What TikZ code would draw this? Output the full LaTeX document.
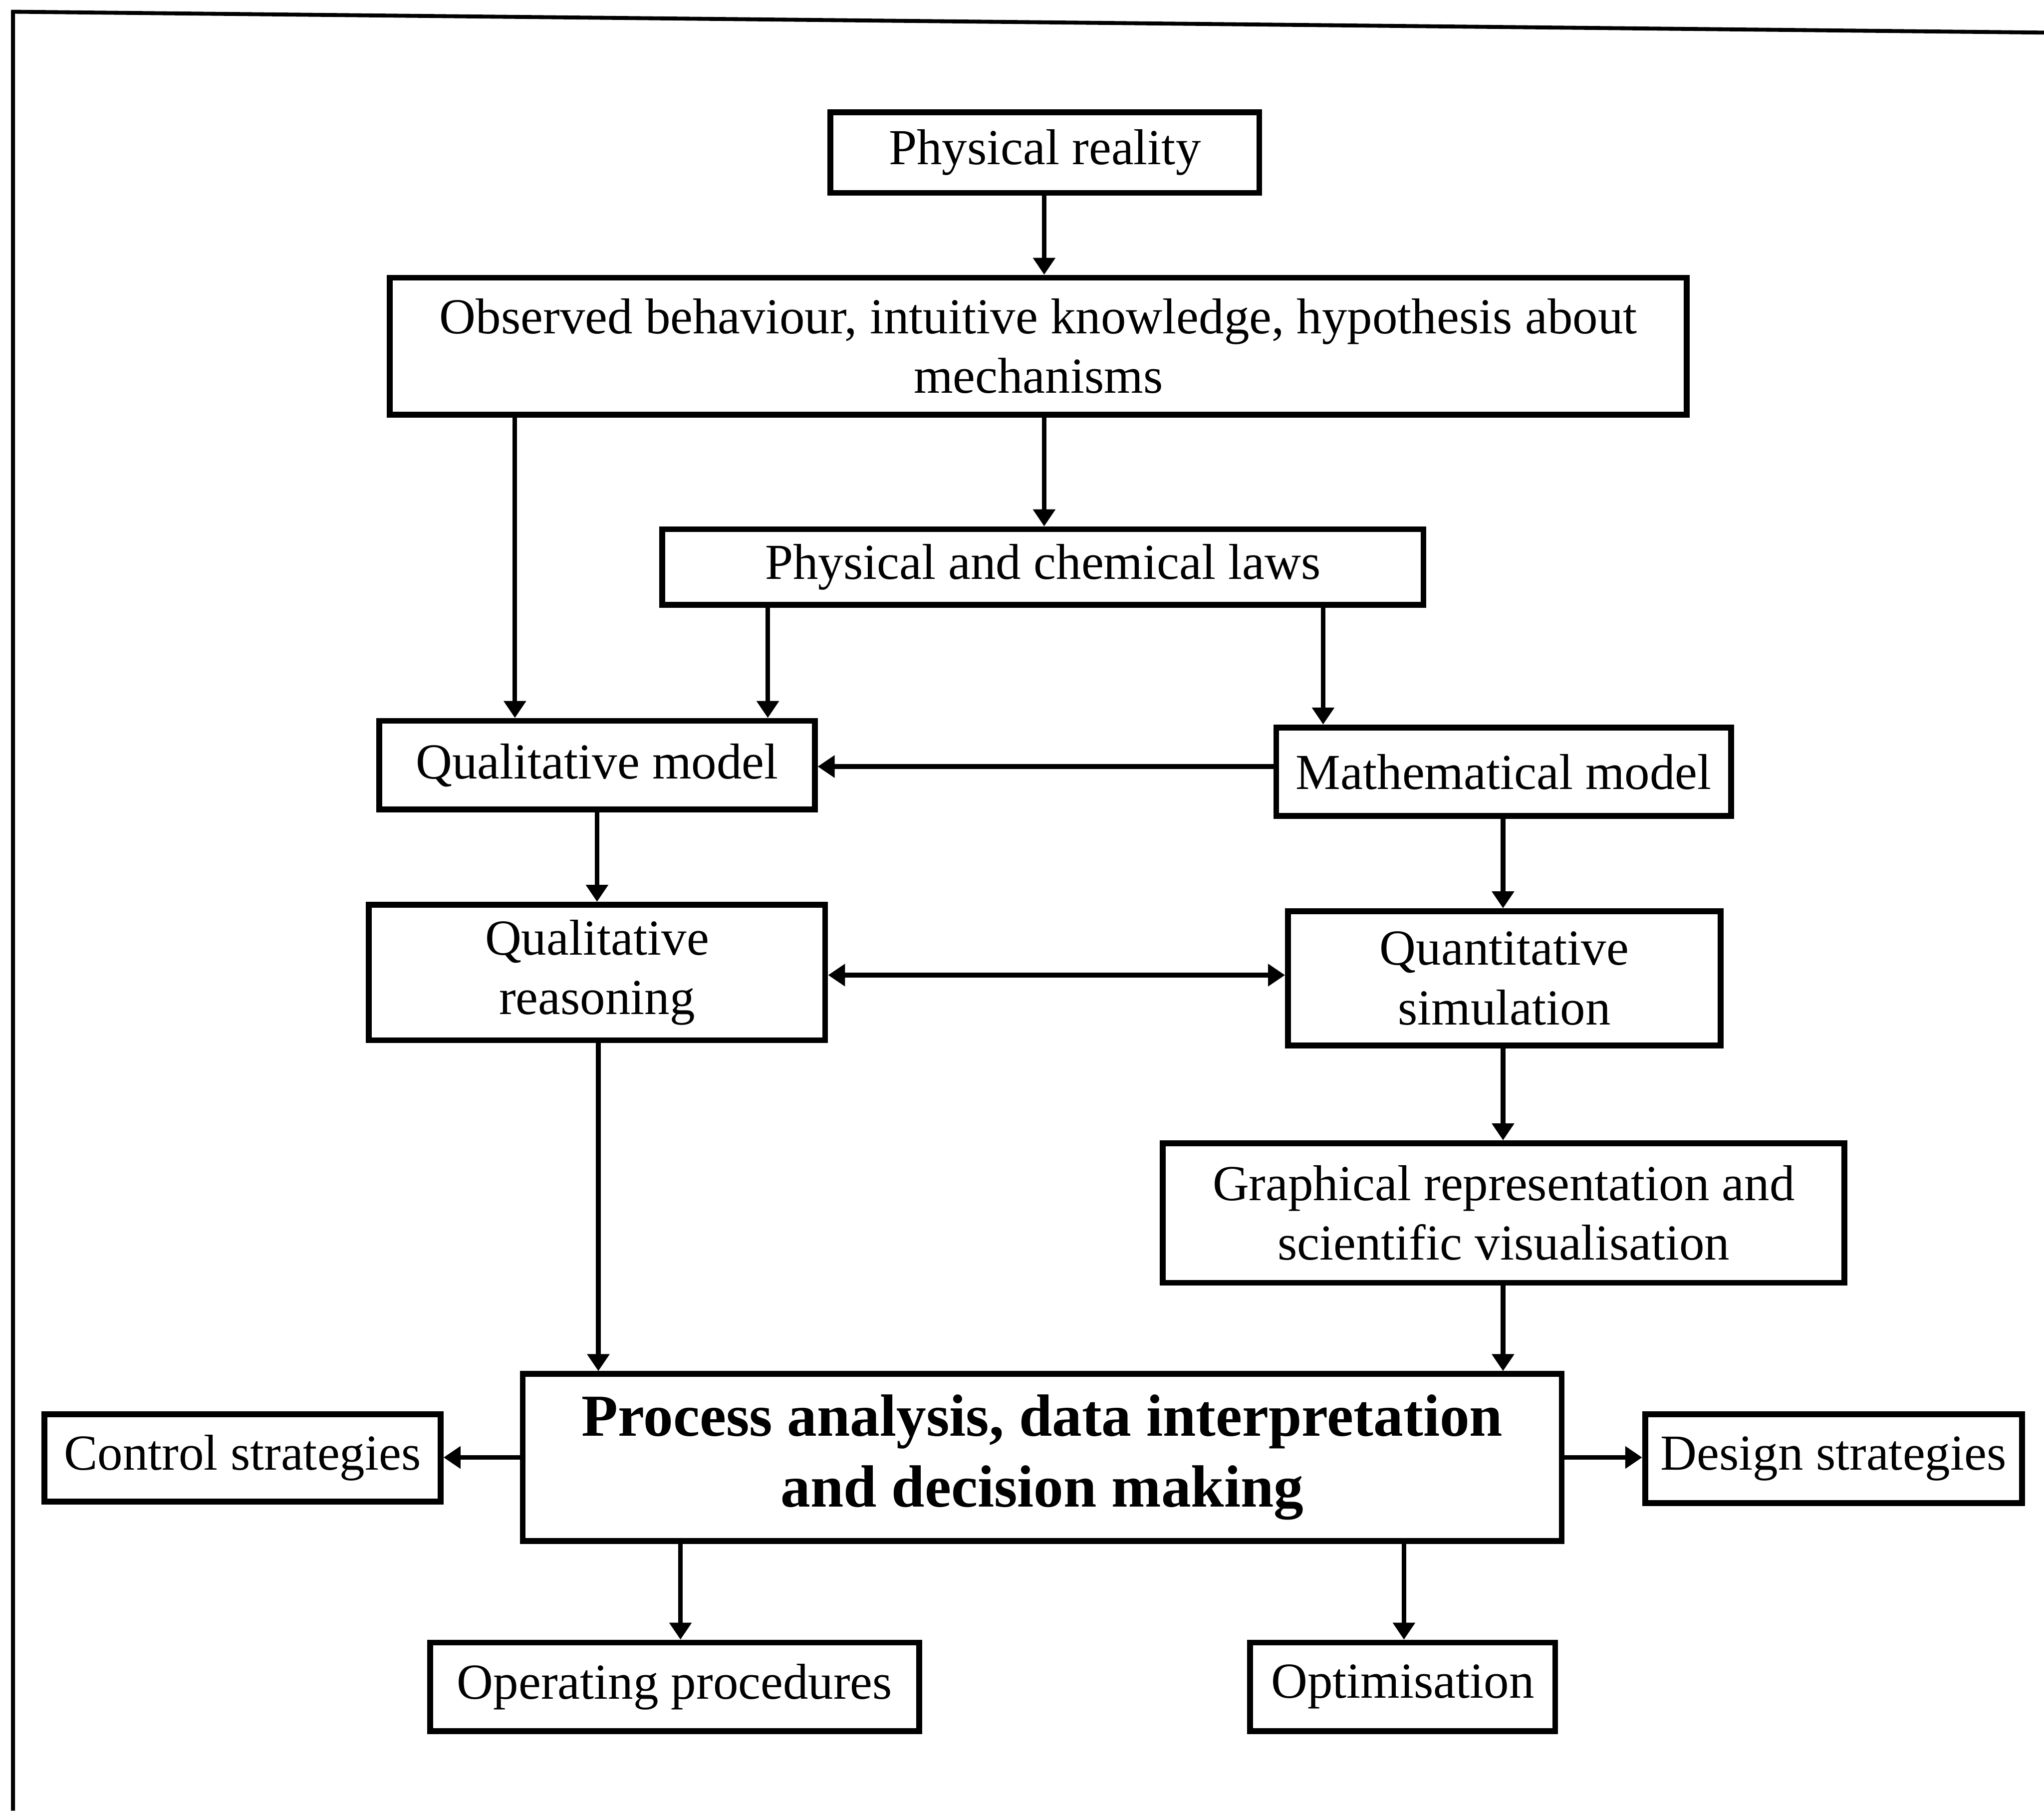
\documentclass[tikz,border=0pt]{standalone}
\usepackage{fontspec}
\setmainfont{Liberation Serif}
\usetikzlibrary{arrows.meta}
\tikzset{
  wh/.style 2 args={minimum width={#1*0.2mm}, minimum height={#2*0.2mm}},
  box/.style={draw, line width=0.9mm, inner sep=0pt, align=center,
    font=\fontsize{22}{26}\selectfont},
  bigbox/.style={box, font=\fontsize{26}{31}\selectfont\bfseries},
  arr/.style={line width=0.7mm, -{Triangle[length=2.6mm,width=3.3mm]}},
  darr/.style={line width=0.7mm, {Triangle[length=2.6mm,width=3.3mm]}-{Triangle[length=2.6mm,width=3.3mm]}},
  frame/.style={line width=0.6mm}
}
\begin{document}
\begin{tikzpicture}[x=0.2mm, y=-0.2mm]
\useasboundingbox (0,0) rectangle (1568,1389);

% outer frame (top and left edges)
\coordinate (ftr) at (1568,25);
\coordinate (ftl) at (10,9);
\coordinate (fbl) at (10,1389);
\draw[frame] (ftr) -- (ftl) -- (fbl);

% boxes
\node[box, wh={329}{62}]  (pr)  at (801.5,117)   {Physical reality};
\node[box, wh={995}{105}] (ob)  at (796.5,265.5) {Observed behaviour, intuitive knowledge, hypothesis about\\mechanisms};
\node[box, wh={584}{58}]  (pcl) at (800,435)     {Physical and chemical laws};
\node[box, wh={334}{68}]  (qm)  at (458,587)     {Qualitative model};
\node[box, wh={349}{68}]  (mm)  at (1153.5,592)  {Mathematical model};
\node[box, wh={350}{104}] (qr)  at (458,746)     {Qualitative\\reasoning};
\node[box, wh={332}{103}] (qs)  at (1154,750.5)  {Quantitative\\simulation};
\node[box, wh={523}{107}] (gr)  at (1153.5,930.5){Graphical representation and\\scientific visualisation};
\node[bigbox, wh={797}{128}] (pa) at (799.5,1118) {Process analysis, data interpretation\\and decision making};
\node[box, wh={304}{67}]  (cs)  at (186,1118.5)  {Control strategies};
\node[box, wh={289}{68}]  (ds)  at (1406.5,1119) {Design strategies};
\node[box, wh={375}{68}]  (op)  at (517.5,1294)  {Operating procedures};
\node[box, wh={234}{68}]  (opt) at (1076,1294)   {Optimisation};

% guide positions for the connectors
\coordinate (c801)  at (801,0);
\coordinate (c395)  at (395,0);
\coordinate (c589)  at (589,0);
\coordinate (c1015) at (1015,0);
\coordinate (c459)  at (459,0);
\coordinate (c1153) at (1153,0);
\coordinate (c522)  at (522,0);
\coordinate (c1077) at (1077,0);
\coordinate (r588)  at (0,588);
\coordinate (r748)  at (0,748);
\coordinate (r1118) at (0,1118);

% connectors
\draw[arr] (pr.south -| c801) -- (ob.north -| c801);
\draw[arr] (ob.south -| c801) -- (pcl.north -| c801);
\draw[arr] (ob.south -| c395) -- (qm.north -| c395);
\draw[arr] (pcl.south -| c589) -- (qm.north -| c589);
\draw[arr] (pcl.south -| c1015) -- (mm.north -| c1015);
\draw[arr] (mm.west |- r588) -- (qm.east |- r588);
\draw[arr] (qm.south) -- (qr.north);
\draw[arr] (mm.south -| c1153) -- (qs.north -| c1153);
\draw[darr] (qr.east |- r748) -- (qs.west |- r748);
\draw[arr] (qs.south -| c1153) -- (gr.north -| c1153);
\draw[arr] (qr.south -| c459) -- (pa.north -| c459);
\draw[arr] (gr.south -| c1153) -- (pa.north -| c1153);
\draw[arr] (pa.west |- r1118) -- (cs.east |- r1118);
\draw[arr] (pa.east |- r1118) -- (ds.west |- r1118);
\draw[arr] (pa.south -| c522) -- (op.north -| c522);
\draw[arr] (pa.south -| c1077) -- (opt.north -| c1077);
\end{tikzpicture}
\end{document}
